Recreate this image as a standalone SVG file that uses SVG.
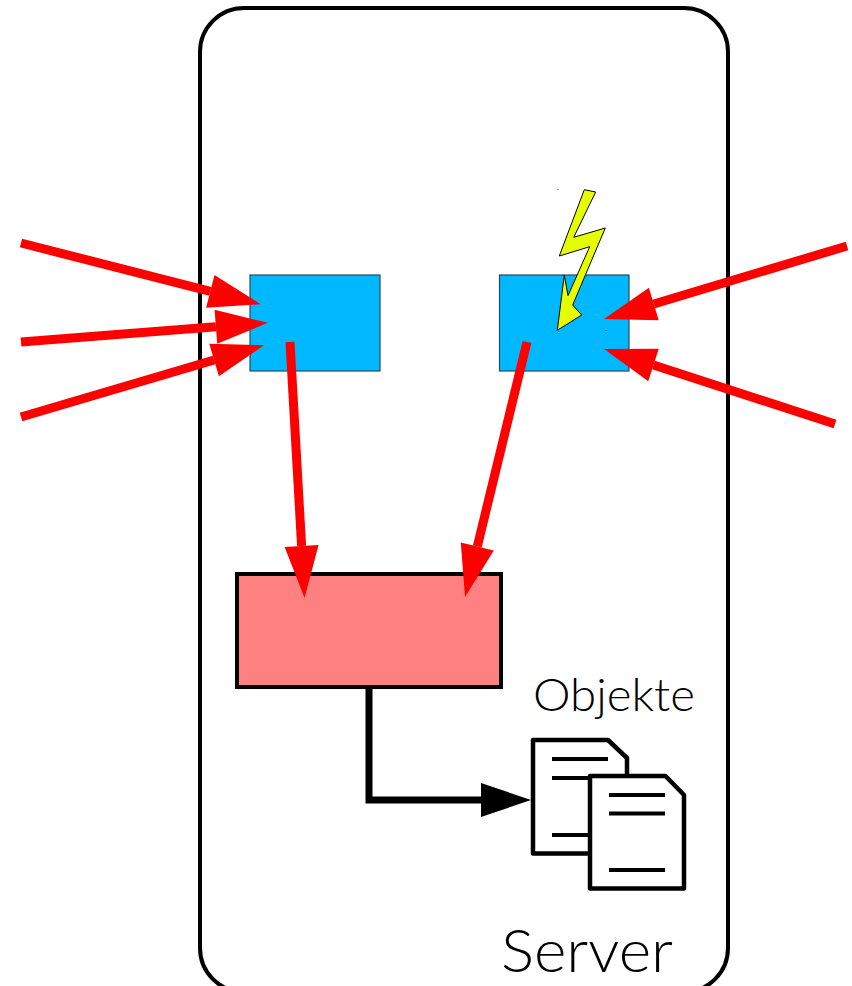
<svg xmlns="http://www.w3.org/2000/svg" width="852" height="986" viewBox="0 0 852 986">
<style>
.blue{fill:#00b8ff;stroke:#2a4a5a;stroke-width:1.2}
.red{fill:none;stroke:#ff0000;stroke-width:9;marker-end:url(#redHead)}
.doc{fill:#fff;stroke:#000;stroke-width:4.500;stroke-linejoin:round}
.rule{stroke:#000;stroke-width:4;fill:none}
.label{font-family:"Lato","Open Sans","Liberation Sans",sans-serif;fill:#000}
</style>
<defs>
<marker id="redHead" markerUnits="userSpaceOnUse" markerWidth="54" markerHeight="36" refX="0" refY="18" orient="auto" overflow="visible"><path d="M0,1 L52,18 L0,35 z" fill="#ff0000"/></marker>
<marker id="blackHead" markerUnits="userSpaceOnUse" markerWidth="50" markerHeight="36" refX="0" refY="17" orient="auto" overflow="visible"><path d="M0,0 L50,17 L0,34 z" fill="#000"/></marker>
</defs>
<rect width="852" height="986" fill="#fff"/>
<g id="server"><rect x="200" y="8" width="528" height="984" rx="44" ry="44" fill="#fff" stroke="#000" stroke-width="4"/>
<text class="label" x="501" y="972" font-size="60" font-weight="300" textLength="172" lengthAdjust="spacingAndGlyphs">Server</text></g>
<g id="queue-left"><rect class="blue" x="250" y="275" width="130" height="96"/></g>
<g id="queue-right"><rect class="blue" x="499.500" y="275" width="129.500" height="96"/></g>
<g id="store"><rect x="237" y="574" width="264" height="113" fill="#ff8080" stroke="#000" stroke-width="4"/></g>
<g id="objects">
<text class="label" x="533" y="711" font-size="45" font-weight="300" textLength="162" lengthAdjust="spacingAndGlyphs">Objekte</text>
<g id="doc-back"><path class="doc" d="M533,740 H608 L627,758 V853.500 H533 Z"/>
<path class="rule" d="M552,759 H608 M552,778 H608 M552,835 H608"/></g>
<g id="doc-front"><path class="doc" d="M590,776 H665.500 L684,795 V888.500 H590 Z"/>
<path class="rule" d="M609,795 H665 M609,813.500 H665 M609,870 H665"/></g>
</g>
<g id="connectors">
<path d="M369,687 V800 H481" fill="none" stroke="#000" stroke-width="7" marker-end="url(#blackHead)"/>
<line class="red" x1="21" y1="243" x2="210.300" y2="291.400"/>
<line class="red" x1="21" y1="342" x2="215.900" y2="326.800"/>
<line class="red" x1="21" y1="417" x2="214.100" y2="360"/>
<line class="red" x1="290" y1="342" x2="301.600" y2="546"/>
<line class="red" x1="527" y1="342" x2="477.300" y2="546.500"/>
<line class="red" x1="847" y1="246" x2="653.800" y2="304"/>
<line class="red" x1="835" y1="424" x2="653.500" y2="365"/>
</g>
<g id="lightning"><polygon points="584.300,189.700 595.700,192 573.700,237.300 605.300,228 572.700,305 581.700,315 557.300,330.300 564.300,275 568,295.700 589.700,246.700 559.300,256" fill="#e6ff00" stroke="#000" stroke-width="1"/>
<rect x="557.500" y="189" width="1" height="1" fill="#555"/><rect x="605.500" y="330" width="1" height="1" fill="#222"/></g>
</svg>
